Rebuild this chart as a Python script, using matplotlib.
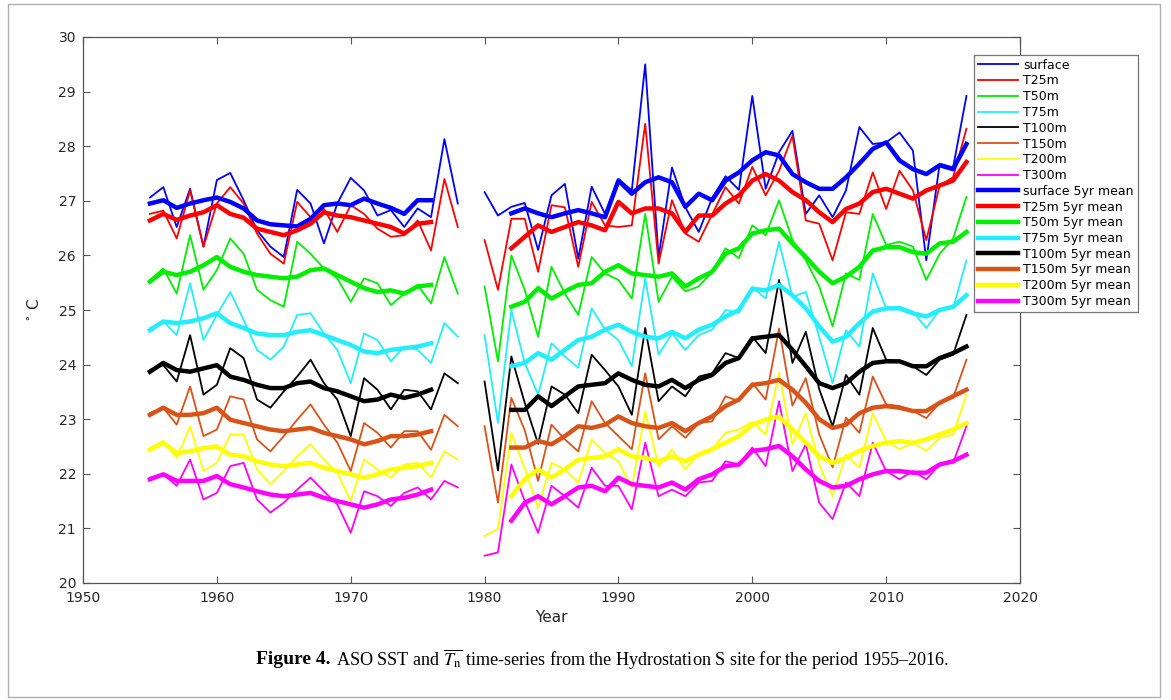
import numpy as np
import matplotlib.pyplot as plt
from matplotlib.patches import Rectangle

# Years: annual values have a gap in 1979, 5yr means start 1955 and 1982
years_early = list(range(1955, 1979))
years_late = list(range(1980, 2017))
mean_years_early = list(range(1955, 1977))
mean_years_late = list(range(1982, 2017))

# Annual ASO temperatures (1955-1978, then 1980-2016)
surface = [27.06, 27.25, 26.52, 27.22, 26.16, 27.38, 27.51, 27.01, 26.46, 26.16, 25.97, 27.20,
           26.95, 26.22, 26.95, 27.42, 27.19, 26.73, 26.83, 26.52, 26.86, 26.70, 28.13, 26.95,
           27.16, 26.73, 26.89, 26.96, 26.10, 27.10, 27.31, 25.94, 27.26, 26.76, 27.40, 27.19,
           29.50, 25.97, 27.61, 26.88, 26.43, 27.05, 27.45, 27.20,
           28.92, 27.22, 27.89, 28.28, 26.76, 27.10, 26.70, 27.19, 28.35, 28.04, 28.07, 28.25,
           27.92, 25.91, 27.68, 27.61, 28.92]
t25 = [26.76, 26.82, 26.31, 27.19, 26.16, 26.95, 27.25, 26.95, 26.40, 26.03, 25.85, 26.98,
       26.70, 26.85, 26.43, 26.92, 26.76, 26.49, 26.34, 26.37, 26.64, 26.09, 27.40, 26.52,
       26.28, 25.37, 26.67, 26.67, 25.70, 26.92, 26.88, 25.79, 26.98, 26.55, 26.52, 26.55,
       28.41, 25.85, 27.01, 26.40, 26.25, 26.75, 27.25, 26.95,
       27.62, 27.10, 27.55, 28.19, 26.64, 26.58, 25.91, 26.79, 26.76, 27.52, 26.85, 27.55,
       27.19, 26.28, 27.28, 27.43, 28.32]
t50 = [25.55, 25.76, 25.30, 26.37, 25.37, 25.73, 26.31, 26.03, 25.37, 25.18, 25.06, 26.25,
       26.03, 25.76, 25.58, 25.15, 25.58, 25.49, 25.09, 25.30, 25.46, 25.12, 25.97, 25.30,
       25.43, 24.06, 26.00, 25.37, 24.51, 25.79, 25.30, 24.91, 25.97, 25.67, 25.55, 25.21,
       26.76, 25.15, 25.61, 25.34, 25.43, 25.70, 26.13, 25.95,
       26.55, 26.37, 27.01, 26.28, 25.91, 25.43, 24.70, 25.67, 25.55, 26.76, 26.19, 26.25,
       26.16, 25.55, 26.03, 26.31, 27.07]
t75 = [24.67, 24.79, 24.54, 25.49, 24.45, 24.91, 25.33, 24.82, 24.27, 24.09, 24.33, 24.91,
       24.94, 24.57, 24.27, 23.66, 24.57, 24.45, 24.06, 24.33, 24.27, 24.03, 24.76, 24.51,
       24.54, 22.93, 25.00, 24.03, 23.45, 24.39, 24.15, 23.94, 25.03, 24.64, 24.45, 23.97,
       25.58, 24.18, 24.57, 24.27, 24.54, 24.64, 25.00, 24.95,
       25.42, 25.21, 26.25, 25.24, 25.33, 24.51, 23.66, 24.63, 24.33, 25.67, 25.03, 25.06,
       24.97, 24.67, 25.00, 25.03, 25.91]
t100 = [23.90, 23.99, 23.69, 24.54, 23.45, 23.63, 24.30, 24.12, 23.36, 23.21, 23.51, 23.78,
        24.09, 23.66, 23.36, 22.69, 23.75, 23.54, 23.18, 23.54, 23.51, 23.18, 23.84, 23.66,
        23.69, 22.06, 24.15, 23.30, 22.55, 23.60, 23.45, 23.11, 24.18, 23.90, 23.60, 23.08,
        24.67, 23.33, 23.60, 23.42, 23.78, 23.84, 24.21, 24.12,
        24.51, 24.21, 25.55, 24.03, 24.60, 23.55, 22.87, 23.81, 23.45, 24.67, 24.09, 24.06,
        23.97, 23.81, 24.09, 24.18, 24.91]
t150 = [23.11, 23.21, 22.90, 23.60, 22.69, 22.81, 23.42, 23.36, 22.63, 22.41, 22.69, 22.99,
        23.27, 22.90, 22.57, 22.05, 22.93, 22.75, 22.48, 22.78, 22.78, 22.44, 23.08, 22.87,
        22.87, 21.47, 23.39, 22.80, 21.87, 22.90, 22.63, 22.41, 23.33, 22.93, 22.69, 22.45,
        23.84, 22.63, 22.87, 22.66, 22.93, 22.96, 23.42, 23.33,
        23.66, 23.36, 24.66, 23.25, 23.75, 22.72, 22.12, 23.03, 22.75, 23.78, 23.27, 23.24,
        23.15, 23.02, 23.30, 23.39, 24.09]
t200 = [22.47, 22.60, 22.29, 22.87, 22.05, 22.20, 22.72, 22.72, 22.08, 21.81, 22.05, 22.32,
        22.54, 22.26, 22.02, 21.50, 22.26, 22.08, 21.93, 22.17, 22.20, 21.93, 22.41, 22.26,
        20.86, 20.99, 22.75, 22.10, 21.38, 22.20, 22.08, 21.84, 22.63, 22.38, 22.23, 21.75,
        23.14, 22.14, 22.45, 22.08, 22.38, 22.45, 22.75, 22.81,
        22.95, 22.72, 23.85, 22.54, 23.11, 22.17, 21.59, 22.35, 22.11, 23.11, 22.60, 22.45,
        22.57, 22.42, 22.66, 22.72, 23.45]
t300 = [21.93, 21.99, 21.78, 22.26, 21.53, 21.65, 22.14, 22.20, 21.53, 21.29, 21.47, 21.71,
        21.93, 21.68, 21.44, 20.92, 21.68, 21.59, 21.41, 21.65, 21.75, 21.53, 21.87, 21.75,
        20.50, 20.56, 22.17, 21.50, 20.92, 21.78, 21.59, 21.38, 22.11, 21.78, 21.78, 21.35,
        22.57, 21.59, 21.71, 21.59, 21.84, 21.87, 22.23, 22.17,
        22.48, 22.14, 23.33, 22.05, 22.54, 21.47, 21.17, 21.84, 21.59, 22.57, 22.05, 21.90,
        22.05, 21.90, 22.17, 22.20, 22.87]

# 5yr running means (1955-1976, then 1982-2016)
surface_5yr = [26.95, 27.01, 26.87, 26.95, 27.01, 27.06, 26.98, 26.86, 26.64, 26.57, 26.55,
               26.53, 26.67, 26.92, 26.95, 26.92, 27.04, 26.95, 26.87, 26.76, 27.01, 27.01,
               26.77, 26.86, 26.77, 26.70, 26.77, 26.83, 26.77, 26.70, 27.37, 27.13, 27.34,
               27.43, 27.34, 26.89, 27.13, 27.01, 27.37, 27.52,
               27.74, 27.89, 27.83, 27.49, 27.34, 27.22, 27.22, 27.43, 27.68, 27.95, 28.07,
               27.74, 27.58, 27.49, 27.65, 27.58, 28.04]
t25_5yr = [26.64, 26.76, 26.65, 26.73, 26.79, 26.92, 26.76, 26.69, 26.49, 26.43, 26.37,
           26.46, 26.58, 26.79, 26.73, 26.70, 26.64, 26.58, 26.52, 26.40, 26.58, 26.61,
           26.13, 26.34, 26.55, 26.43, 26.52, 26.61, 26.55, 26.46, 26.98, 26.77, 26.86,
           26.86, 26.77, 26.43, 26.73, 26.73, 26.95, 27.10,
           27.37, 27.49, 27.37, 27.16, 27.01, 26.79, 26.61, 26.85, 26.95, 27.16, 27.22,
           27.13, 27.04, 27.19, 27.28, 27.37, 27.71]
t50_5yr = [25.52, 25.70, 25.64, 25.70, 25.82, 25.97, 25.79, 25.70, 25.64, 25.61, 25.58,
           25.61, 25.73, 25.76, 25.64, 25.52, 25.40, 25.33, 25.36, 25.30, 25.43, 25.46,
           25.06, 25.15, 25.40, 25.21, 25.34, 25.46, 25.49, 25.70, 25.82, 25.67, 25.64,
           25.61, 25.67, 25.43, 25.58, 25.70, 26.03, 26.13,
           26.40, 26.46, 26.49, 26.22, 25.97, 25.70, 25.49, 25.61, 25.79, 26.09, 26.15,
           26.15, 26.06, 26.03, 26.22, 26.25, 26.43]
t75_5yr = [24.63, 24.79, 24.76, 24.79, 24.85, 24.94, 24.76, 24.67, 24.57, 24.54, 24.54,
           24.60, 24.63, 24.54, 24.45, 24.36, 24.24, 24.21, 24.27, 24.30, 24.33, 24.39,
           23.97, 24.03, 24.21, 24.09, 24.27, 24.45, 24.51, 24.64, 24.73, 24.60, 24.51,
           24.48, 24.60, 24.48, 24.64, 24.73, 24.88, 25.00,
           25.39, 25.36, 25.46, 25.27, 25.03, 24.70, 24.42, 24.51, 24.76, 24.97, 25.03,
           25.03, 24.94, 24.88, 25.00, 25.06, 25.27]
t100_5yr = [23.87, 24.03, 23.90, 23.87, 23.93, 23.99, 23.78, 23.72, 23.63, 23.57, 23.57,
            23.66, 23.69, 23.57, 23.51, 23.42, 23.33, 23.36, 23.45, 23.39, 23.45, 23.54,
            23.17, 23.17, 23.42, 23.24, 23.42, 23.60, 23.63, 23.66, 23.84, 23.72, 23.63,
            23.60, 23.72, 23.57, 23.72, 23.81, 24.03, 24.12,
            24.48, 24.51, 24.54, 24.27, 23.97, 23.66, 23.57, 23.66, 23.87, 24.03, 24.06,
            24.06, 23.97, 23.97, 24.12, 24.21, 24.33]
t150_5yr = [23.08, 23.21, 23.08, 23.08, 23.11, 23.21, 22.99, 22.93, 22.87, 22.81, 22.78,
            22.81, 22.84, 22.75, 22.69, 22.63, 22.54, 22.60, 22.69, 22.69, 22.72, 22.78,
            22.48, 22.48, 22.60, 22.54, 22.69, 22.87, 22.84, 22.90, 23.05, 22.93, 22.87,
            22.84, 22.93, 22.78, 22.93, 23.05, 23.24, 23.36,
            23.63, 23.66, 23.72, 23.54, 23.30, 23.00, 22.84, 22.90, 23.11, 23.21, 23.24,
            23.21, 23.15, 23.15, 23.30, 23.42, 23.54]
t200_5yr = [22.44, 22.57, 22.38, 22.41, 22.47, 22.50, 22.35, 22.32, 22.23, 22.17, 22.14,
            22.17, 22.20, 22.11, 22.05, 21.99, 21.93, 21.99, 22.08, 22.11, 22.14, 22.20,
            21.59, 21.90, 22.08, 21.93, 22.08, 22.26, 22.29, 22.32, 22.45, 22.32, 22.29,
            22.23, 22.32, 22.23, 22.35, 22.45, 22.57, 22.69,
            22.90, 22.99, 23.05, 22.81, 22.57, 22.32, 22.20, 22.29, 22.42, 22.51, 22.57,
            22.60, 22.57, 22.63, 22.72, 22.81, 22.93]
t300_5yr = [21.90, 21.99, 21.87, 21.87, 21.87, 21.96, 21.81, 21.75, 21.68, 21.62, 21.59,
            21.62, 21.65, 21.56, 21.50, 21.44, 21.38, 21.44, 21.53, 21.56, 21.62, 21.71,
            21.14, 21.47, 21.59, 21.44, 21.59, 21.75, 21.78, 21.68, 21.93, 21.81, 21.78,
            21.75, 21.84, 21.71, 21.90, 21.99, 22.14, 22.17,
            22.42, 22.45, 22.51, 22.32, 22.08, 21.87, 21.75, 21.78, 21.90, 21.99, 22.05,
            22.05, 22.02, 22.02, 22.17, 22.23, 22.35]

labels = ['surface', 'T25m', 'T50m', 'T75m', 'T100m', 'T150m', 'T200m', 'T300m']
colors = ['#0000ff', '#ff0000', '#00ee00', '#22eeff', '#000000', '#d95319', '#ffff00', '#ff00ff']
annual = [surface, t25, t50, t75, t100, t150, t200, t300]
means = [surface_5yr, t25_5yr, t50_5yr, t75_5yr, t100_5yr, t150_5yr, t200_5yr, t300_5yr]


def with_gap(first_years, second_years, values):
    # put a NaN between the two record segments so the line breaks
    n = len(first_years)
    x = first_years + [np.nan] + second_years
    y = values[:n] + [np.nan] + values[n:]
    return x, y


fig = plt.figure(figsize=(11.71, 7.0), dpi=100)
ax = fig.add_axes([83 / 1171, 1 - 583 / 700, (1020 - 83) / 1171, (583 - 37) / 700])

for lab, col, vals in zip(labels, colors, annual):
    x, y = with_gap(years_early, years_late, vals)
    ax.plot(x, y, color=col, lw=1.3, label=lab)

for lab, col, vals in zip(labels, colors, means):
    x, y = with_gap(mean_years_early, mean_years_late, vals)
    ax.plot(x, y, color=col, lw=3.2, label=lab + ' 5yr mean')

ax.set_xlim(1950, 2020)
ax.set_ylim(20, 30)
ax.set_xticks(range(1950, 2021, 10))
ax.set_yticks(range(20, 31))
ax.tick_params(direction='in', top=True, right=True, length=5, width=0.8,
               labelsize=10, colors='#555555', labelcolor='#262626')
ax.tick_params(axis='x', pad=6)
ax.tick_params(axis='y', pad=5)
for s in ax.spines.values():
    s.set_color('#555555')
    s.set_linewidth(0.9)
ax.set_xlabel('Year', fontsize=11, color='#262626', labelpad=3)
ax.set_ylabel(r'$^{\circ}$ C', fontsize=11, color='#262626', labelpad=12)

leg = ax.legend(loc='upper left', bbox_to_anchor=(974 / 1171, 1 - 55 / 700),
                bbox_transform=fig.transFigure, borderaxespad=0, fontsize=9,
                handlelength=3.2, handletextpad=0.45, labelspacing=0.22,
                borderpad=0.3, fancybox=False, framealpha=1)
leg.get_frame().set_edgecolor('#777777')
leg.get_frame().set_linewidth(0.9)

# caption under the chart
cy = 1 - 660 / 700
fig.text(331 / 1171, cy, 'Figure 4.', ha='right', va='center', fontsize=14,
         family='Liberation Serif', weight='bold')
fig.text(336 / 1171, cy, r'ASO SST and $\overline{T_{\rm n}}$ time-series from the Hydrostation S site for the period 1955–2016.',
         ha='left', va='center', fontsize=13.1, family='Liberation Serif',
         math_fontfamily='stix')

# thin grey frame round the whole figure
fig.patches.append(Rectangle((8 / 1171, 1 - 697 / 700), (1160 - 8) / 1171, (697 - 4) / 700,
                             transform=fig.transFigure, fill=False,
                             edgecolor='#b0b0b0', lw=1.0))

fig.savefig('out.png', dpi=100)
